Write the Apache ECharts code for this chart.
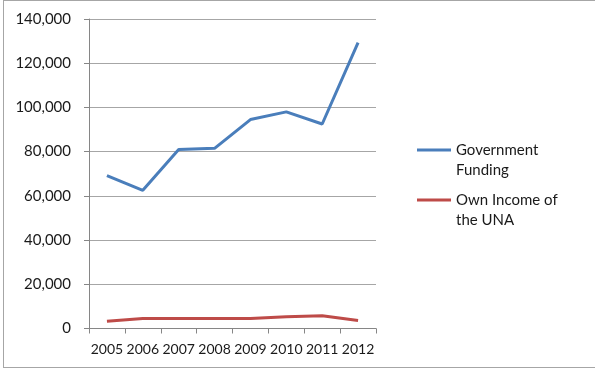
<!DOCTYPE html>
<html>
<head>
<meta charset="utf-8">
<script src="https://cdn.jsdelivr.net/npm/echarts@6/dist/echarts.min.js"></script>
<style>
html,body{margin:0;padding:0;background:#fff;}
#c{width:595px;height:370px;}
#frame{position:absolute;left:3px;top:0;width:600px;height:368px;border:1px solid #a6a6a6;box-sizing:border-box;pointer-events:none;}
</style>
</head>
<body>
<div id="c"></div>
<div id="frame"></div>
<script>
var years = ['2005','2006','2007','2008','2009','2010','2011','2012'];
var govFunding = [69200, 62500, 81000, 81500, 94500, 98000, 92500, 129300];
var ownIncome = [3300, 4500, 4500, 4500, 4500, 5300, 5800, 3600];
var seriesNames = ['Government Funding', 'Own Income of the UNA'];
var legendLines = {
  'Government Funding': ['Government', 'Funding'],
  'Own Income of the UNA': ['Own Income of', 'the UNA']
};
var yTicks = {min: 0, max: 140000, interval: 20000};

var chart = echarts.init(document.getElementById('c'), null, {renderer: 'canvas'});
var font = 'Lato';
var textColor = '#1a1a1a';
chart.setOption({
  animation: false,
  backgroundColor: '#fff',
  grid: {left: 89, right: 219, top: 19, bottom: 41.5, containLabel: false},
  legend: {
    orient: 'vertical',
    left: 417,
    top: 120,
    padding: 0,
    itemWidth: 34,
    itemHeight: 3,
    itemGap: -10,
    icon: 'rect',
    textStyle: {fontFamily: font, fontSize: 15, color: textColor, lineHeight: 20},
    formatter: function (name) {
      var l = legendLines[name];
      return '\n' + l[0] + '\n' + l[1];
    },
    data: seriesNames
  },
  xAxis: {
    type: 'category',
    data: years,
    boundaryGap: true,
    axisLine: {lineStyle: {color: '#868686', width: 1}},
    axisTick: {show: true, length: 5, inside: false, lineStyle: {color: '#868686'}},
    axisLabel: {fontFamily: font, fontSize: 14, color: textColor, margin: 14, interval: 0}
  },
  yAxis: {
    type: 'value',
    min: yTicks.min, max: yTicks.max, interval: yTicks.interval,
    axisLine: {show: true, lineStyle: {color: '#868686', width: 1}},
    axisTick: {show: true, length: 5, lineStyle: {color: '#868686'}},
    splitLine: {lineStyle: {color: '#a6a6a6', width: 1}},
    axisLabel: {
      fontFamily: font, fontSize: 15, color: textColor, margin: 18,
      formatter: function (v) { return v.toLocaleString('en-US'); }
    }
  },
  series: [
    {
      name: seriesNames[0], type: 'line', data: govFunding,
      symbol: 'none', lineStyle: {color: '#4a7ebb', width: 3}, itemStyle: {color: '#4a7ebb'}
    },
    {
      name: seriesNames[1], type: 'line', data: ownIncome,
      symbol: 'none', lineStyle: {color: '#be4b48', width: 3}, itemStyle: {color: '#be4b48'}
    }
  ]
});
</script>
</body>
</html>
